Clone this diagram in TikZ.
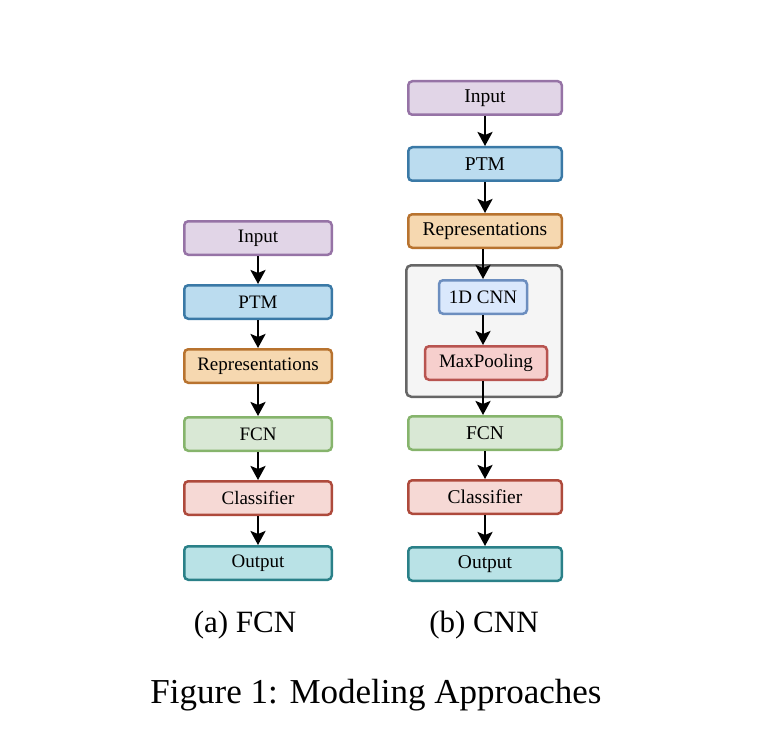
\documentclass[tikz,border=0pt]{standalone}
\usepackage{fontspec}
\setmainfont{Liberation Serif}
\usepackage{xcolor}
\usetikzlibrary{arrows.meta}

\definecolor{inFill}{HTML}{E1D5E7}  \definecolor{inLine}{HTML}{9673A6}
\definecolor{ptmFill}{HTML}{BBDCEF} \definecolor{ptmLine}{HTML}{3A79A6}
\definecolor{repFill}{HTML}{F6D8B0} \definecolor{repLine}{HTML}{B8732F}
\definecolor{fcnFill}{HTML}{D9E8D5} \definecolor{fcnLine}{HTML}{86B46C}
\definecolor{clsFill}{HTML}{F6D9D5} \definecolor{clsLine}{HTML}{AE4A3C}
\definecolor{outFill}{HTML}{B9E2E6} \definecolor{outLine}{HTML}{2A8088}
\definecolor{cnnFill}{HTML}{DAE8FC} \definecolor{cnnLine}{HTML}{6C8EBF}
\definecolor{mpFill}{HTML}{F6CFCD}  \definecolor{mpLine}{HTML}{B85450}
\definecolor{grpFill}{HTML}{F5F5F5} \definecolor{grpLine}{HTML}{666666}

\begin{document}
\begin{tikzpicture}[x=1pt,y=-1pt]
        \tikzstyle{every node}+=[inner sep=0pt]
        \tikzstyle{box}=[draw, line width=2.5pt, rounded corners=4pt, minimum height=33.5pt,
            font=\fontsize{19}{22}\selectfont]
        \tikzstyle{boxa}=[box, minimum width=147.5pt]
        \tikzstyle{boxb}=[box, minimum width=153.5pt, font=\fontsize{19.5}{22}\selectfont]
        \tikzstyle{flow}=[line width=2.6pt, -{Stealth[length=14pt,width=15pt,inset=3pt]}]
        \useasboundingbox (0,0) rectangle (784,730);
        % (a) FCN
        \node [boxa, fill=inFill, draw=inLine] (ain) at (258,238) {Input};
        \node [boxa, fill=ptmFill, draw=ptmLine] (aptm) at (258,302) {PTM};
        \node [boxa, fill=repFill, draw=repLine] (arep) at (258,366) {Representations};
        \node [boxa, fill=fcnFill, draw=fcnLine] (afcn) at (258,434) {FCN};
        \node [boxa, fill=clsFill, draw=clsLine] (acls) at (258,498) {Classifier};
        \node [boxa, fill=outFill, draw=outLine] (aout) at (258,563) {Output};
        \draw [flow] (ain) -- (aptm);
        \draw [flow] (aptm) -- (arep);
        \draw [flow] (arep) -- (afcn);
        \draw [flow] (afcn) -- (acls);
        \draw [flow] (acls) -- (aout);
        \node (acap) at (245,625) {\fontsize{31}{34}\selectfont (a) FCN};
        % (b) CNN
        \node [draw=grpLine, fill=grpFill, line width=2.5pt, rounded corners=5pt,
            minimum width=155.5pt, minimum height=131.5pt] (bgrp) at (484,331) {};
        \node [boxb, fill=inFill, draw=inLine] (bin) at (485,98) {Input};
        \node [boxb, fill=ptmFill, draw=ptmLine] (bptm) at (485,164) {PTM};
        \node [boxb, fill=repFill, draw=repLine] (brep) at (485,231) {Representations};
        \node [box, fill=cnnFill, draw=cnnLine, minimum width=88pt] (bcnn) at (483,297) {1D CNN};
        \node [box, fill=mpFill, draw=mpLine, minimum width=122pt] (bmp) at (486,363) {MaxPooling};
        \node [boxb, fill=fcnFill, draw=fcnLine] (bfcn) at (485,433) {FCN};
        \node [boxb, fill=clsFill, draw=clsLine] (bcls) at (485,497) {Classifier};
        \node [boxb, fill=outFill, draw=outLine] (bout) at (485,564) {Output};
        \draw [flow] (bin) -- (bptm);
        \draw [flow] (bptm) -- (brep);
        \draw [flow] (brep.south -| bcnn) -- (bcnn);
        \draw [flow] (bcnn) -- (bcnn |- bmp.north);
        \draw [flow] (bmp.south -| bcnn) -- (bfcn.north -| bcnn);
        \draw [flow] (bfcn) -- (bcls);
        \draw [flow] (bcls) -- (bout);
        \node (bcap) at (484,625) {\fontsize{31}{34}\selectfont (b) CNN};
        % caption
        \node (fcap) at (376,695) {\fontsize{35}{40}\selectfont Figure 1: Modeling Approaches};
    \end{tikzpicture}
\end{document}
